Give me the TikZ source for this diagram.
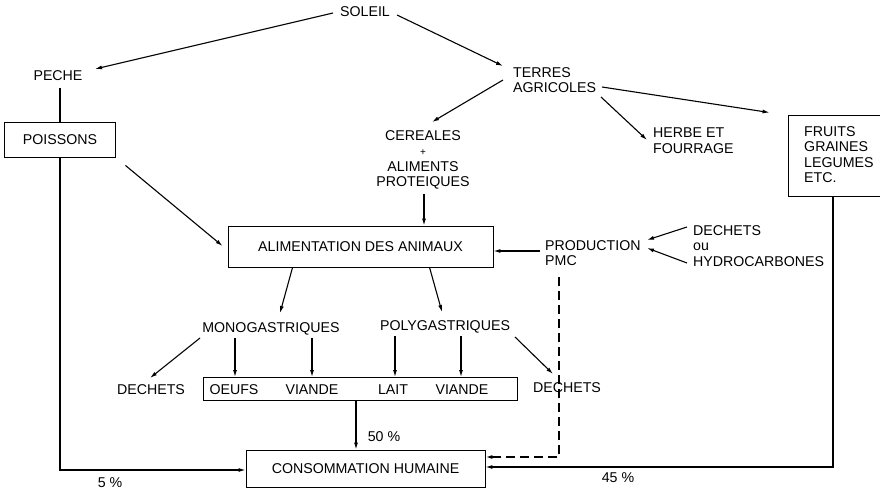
\documentclass[tikz,border=0pt]{standalone}
\usepackage{fontspec}
\setmainfont{Liberation Sans}
\usetikzlibrary{arrows.meta}
\begin{document}
\begin{tikzpicture}[x=1pt,y=-1pt,
  every node/.style={inner sep=0pt, font=\fontsize{14.2}{15.5}\selectfont},
  lbl/.style={text height=10pt, text depth=0pt},
  stack/.style={align=left},
  boxnode/.style={draw, line width=0.9pt},
  conn/.style={line width=1.1pt},
  arr/.style={conn, -{Latex[length=7pt,width=4pt]}},
  dashline/.style={line width=1.5pt, dash pattern=on 9pt off 5pt, -{Latex[length=7pt,width=4pt]}}]
\clip (0,0) rectangle (880,489);

% sources
\node[lbl] (soleil) at (365,12) {SOLEIL};
\node[lbl] (peche) at (58,76) {PECHE};
\node[stack, anchor=north west] (terres) at (513,67) {TERRES\\AGRICOLES};
\node[stack, anchor=north west] (herbe) at (653,128) {HERBE ET\\FOURRAGE};
\node[align=center, anchor=north] (cereales) at (423,130)
  {CEREALES\\{\fontsize{10}{11}\selectfont +}\\ALIMENTS\\PROTEIQUES};
\node[boxnode, minimum width=100pt, minimum height=81pt] (fruits) at (838,155.5) {};
\node[stack, anchor=north west] (fruitstxt) at (804,126) {FRUITS\\GRAINES\\LEGUMES\\ETC.};
\node[boxnode, lbl, minimum width=111pt, minimum height=35pt] (poissons) at (60,139.5) {POISSONS};

% feed
\node[boxnode, lbl, minimum width=265pt, minimum height=41pt] (alim) at (360.5,246.5) {ALIMENTATION DES ANIMAUX};
\node[stack, anchor=north west] (prod) at (545,240) {PRODUCTION\\PMC};
\node[stack, anchor=north west] (dechhc) at (693,225) {DECHETS\\ou\\HYDROCARBONES};

% animals and products
\node[lbl] (mono) at (271,327) {MONOGASTRIQUES};
\node[lbl] (poly) at (445,325) {POLYGASTRIQUES};
\node[lbl] (dechl) at (151,389) {DECHETS};
\node[lbl] (dechr) at (567,387) {DECHETS};
\node[boxnode, minimum width=314pt, minimum height=23pt] (prods) at (360,388.5) {};
\node[lbl] (oeufs) at (234,389) {OEUFS};
\node[lbl] (viande1) at (312,389) {VIANDE};
\node[lbl] (lait) at (393,389) {LAIT};
\node[lbl] (viande2) at (462,389) {VIANDE};

% consumption
\node[boxnode, lbl, minimum width=239pt, minimum height=37pt] (conso) at (365.5,468.5) {CONSOMMATION HUMAINE};
\node[lbl] (p50) at (384,436) {50 \%};
\node[lbl] (p5) at (110,482) {5 \%};
\node[lbl] (p45) at (618,477) {45 \%};

% connectors from the sun and the land
\draw[arr] ([shift={(-32,1)}]soleil.center) -- ([shift={(37,-7)}]peche.center);
\draw[arr] ([shift={(32,3)}]soleil.center) -- ([shift={(-10,-1)}]terres.north west);
\draw[arr] ([shift={(-10,13)}]terres.north west) -- ([shift={(9,-8)}]cereales.north);
\draw[arr] ([shift={(88,30)}]terres.north west) -- ([shift={(-6,12)}]herbe.north west);
\draw[arr] ([shift={(89,20)}]terres.north west) -- ([shift={(-18,-2)}]fruits.north west);
\draw[conn] ([shift={(2,12)}]peche.center) -- (poissons.north);

% feeding
\draw[arr] ([shift={(9.5,8)}]poissons.south east) -- ([shift={(-5,-0.5)}]alim.west);
\draw[arr] ([shift={(1,5)}]cereales.south) -- ([shift={(1,0)}]cereales.south |- alim.north);
\draw[arr] ([shift={(-5,11)}]prod.north west) coordinate (pm) -- (pm -| alim.east);
\draw[arr] ([shift={(-6,2)}]dechhc.north west) -- ([shift={(102,0)}]prod.north west);
\draw[arr] ([shift={(-6,38)}]dechhc.north west) -- ([shift={(102,8)}]prod.north west);

% animals
\draw[arr] ([shift={(65,0)}]alim.south west) -- ([shift={(9,-14)}]mono.center);
\draw[arr] ([shift={(202,0)}]alim.south west) -- ([shift={(-3,-13)}]poly.center);
\draw[arr] ([shift={(-71,11)}]mono.center) -- ([shift={(-1,-11)}]dechl.center);
\draw[arr] ([shift={(-36,11)}]mono.center) -- ([shift={(1,-12)}]oeufs.center);
\draw[arr] ([shift={(41,11)}]mono.center) -- ([shift={(0,-12)}]viande1.center);
\draw[arr] ([shift={(-50,11)}]poly.center) -- ([shift={(2,-12)}]lait.center);
\draw[arr] ([shift={(16,11)}]poly.center) -- ([shift={(-1,-12)}]viande2.center);
\draw[arr] ([shift={(70,12)}]poly.center) -- ([shift={(-14,-13)}]dechr.center);

% flows to human consumption
\draw[arr] ([shift={(-4,0)}]prods.south) -- ([shift={(-9.5,0)}]conso.north);
\draw[arr] (poissons.south) |- ([shift={(0,1.5)}]conso.west);
\draw[arr] ([shift={(-5,0)}]fruits.south) |- ([shift={(0,-1.5)}]conso.east);
\draw[dashline] ([shift={(14,37)}]prod.north west) |- ([shift={(0,-11.5)}]conso.east);
\end{tikzpicture}
\end{document}
